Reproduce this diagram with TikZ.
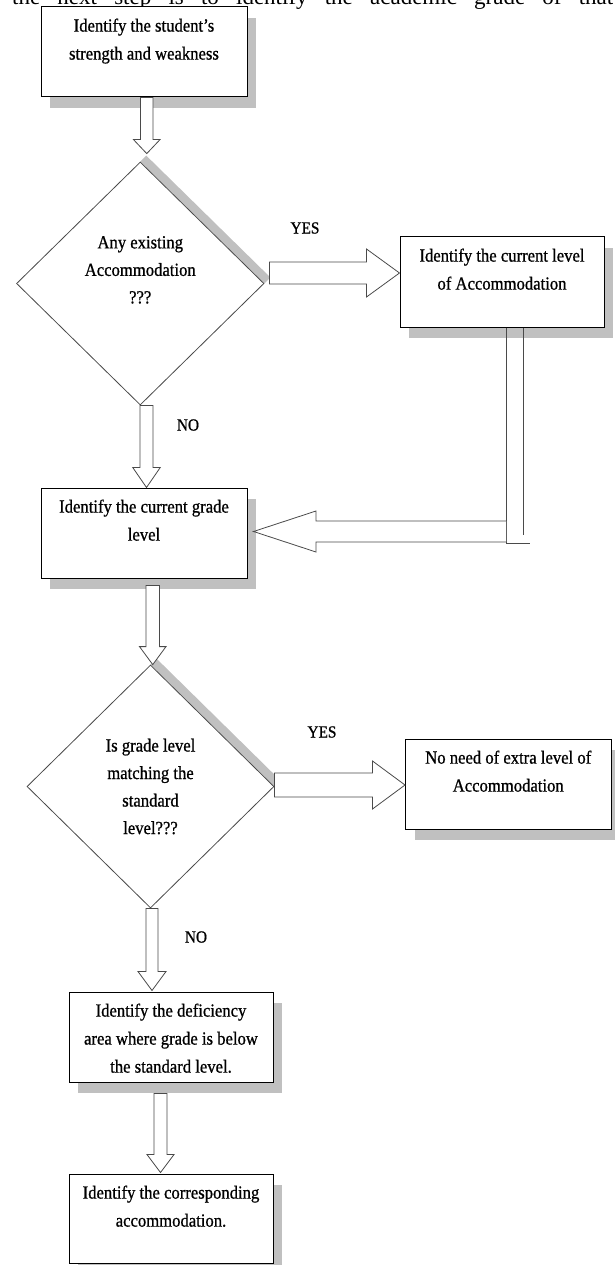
\documentclass[tikz,border=0pt]{standalone}
\usepackage{fontspec}
\setmainfont{Liberation Serif}
\newfontfamily\diagfont[FakeBold=0.8,FakeStretch=0.9]{Liberation Serif}
\usetikzlibrary{calc,shapes.geometric,shadows,backgrounds}
\definecolor{shadowgray}{HTML}{C0C0C0}
\definecolor{arrowline}{HTML}{4A4A4A}
\tikzset{
  every node/.style={font=\diagfont\fontsize{18.5}{28}\selectfont},
  box/.style={draw=black, line width=1pt, fill=white, inner sep=0pt,
    general shadow={fill=shadowgray, shadow xshift=9pt, shadow yshift=-11pt}},
  dec/.style={diamond, draw=arrowline, line width=0.8pt, fill=white, inner sep=0pt,
    align=center, font=\diagfont\fontsize{18.5}{27.5}\selectfont},
  band/.style={fill=shadowgray},
  blockarrow/.style={draw=arrowline, line width=0.8pt, fill=white, line join=miter},
  connline/.style={draw=arrowline, line width=0.9pt},
  lbl/.style={font=\diagfont\fontsize{17}{18}\selectfont, inner sep=0pt},
  toptext/.style={font=\rmfamily\fontsize{23}{26}\selectfont, inner sep=0pt, anchor=base west},
}
\newcommand\boxtext[3]{\parbox[c][#2pt][t]{#1pt}{\centering\vspace*{5pt}\strut #3}}
% vertical block arrow: start, tip, shaft half width, head half width, head length
\newcommand\downblock[5]{\draw[blockarrow] ($(#1)+(-#3,0)$) -- ($(#2)+(-#3,-#5)$) -- ($(#2)+(-#4,-#5)$) -- (#2) -- ($(#2)+(#4,-#5)$) -- ($(#2)+(#3,-#5)$) -- ($(#1)+(#3,0)$) -- cycle;}
% horizontal block arrow to the right
\newcommand\rightblock[5]{\draw[blockarrow] ($(#1)+(0,-#3)$) -- ($(#2)+(-#5,-#3)$) -- ($(#2)+(-#5,-#4)$) -- (#2) -- ($(#2)+(-#5,#4)$) -- ($(#2)+(-#5,#3)$) -- ($(#1)+(0,#3)$) -- cycle;}
\begin{document}
\begin{tikzpicture}[x=1pt,y=-1pt]
\useasboundingbox (0,0) rectangle (615,1265);

% cut-off line of body text at the top
\node[toptext] (top) at (12,5) {\hbox to 601pt{the\hfill next\hfill step\hfill is\hfill to\hfill identify\hfill the\hfill academic\hfill grade\hfill of\hfill that}};

% boxes
\node[box] (B1) at (144,52) {\boxtext{206}{90}{Identify the student’s\\strength and weakness}};
\node[box] (B2) at (502,282) {\boxtext{204}{90}{Identify the current level\\of Accommodation}};
\node[box] (B3) at (144,533) {\boxtext{206}{90}{Identify the current grade\\level}};
\node[box] (B4) at (508.25,784) {\boxtext{205.5}{90}{No need of extra level of\\Accommodation}};
\node[box] (B5) at (171,1037) {\boxtext{204}{90}{Identify the deficiency\\area where grade is below\\the standard level.}};
\node[box] (B6) at (171,1218.5) {\boxtext{204}{89}{Identify the corresponding\\accommodation.}};

% decisions
\node[dec, minimum width=247.5pt, minimum height=243pt] (D1) at (140.25,283.5) {Any existing\\Accommodation\\???\\\mbox{}};
\node[dec, minimum width=247pt, minimum height=243pt] (D2) at (150.5,786.5) {Is grade level\\matching the\\standard\\level???};
\begin{scope}[on background layer]
  \fill[white] (0,0) rectangle (615,1265);
  \fill[band] (D1.north) -- (D1.east) -- ($(D1.east)+(6,-6)$) -- ($(D1.north)+(6,-6)$) -- cycle;
  \fill[band] (D2.north) -- (D2.east) -- ($(D2.east)+(6,-6)$) -- ($(D2.north)+(6,-6)$) -- cycle;
\end{scope}

% labels
\node[lbl] (yes1) at (305,228) {YES};
\node[lbl] (no1) at (188,425) {NO};
\node[lbl] (yes2) at (322,732) {YES};
\node[lbl] (no2) at (196,937) {NO};

% connector end points
\coordinate (A1s) at ($(B1.south)+(2.75,0)$);
\coordinate (A1t) at ($(A1s |- D1.north)+(0,-8)$);
\coordinate (A2s) at ($(D1.south)+(6.25,0)$);
\coordinate (A2t) at (A2s |- B3.north);
\coordinate (A3s) at ($(B3.south)+(8.75,7)$);
\coordinate (A3t) at (A3s |- D2.north);
\coordinate (A4s) at ($(D2.south)+(1.5,0)$);
\coordinate (A4t) at ($(A4s |- B5.north)+(0,-1)$);
\coordinate (A5s) at ($(B5.south)+(-10.5,11)$);
\coordinate (A5t) at ($(A5s |- B6.north)+(0,-1)$);
\coordinate (R1s) at ($(D1.east)+(5,-10.5)$);
\coordinate (R1t) at (R1s -| B2.west);
\coordinate (R2s) at ($(D2.east)+(0,-1.5)$);
\coordinate (R2t) at (R2s -| B4.west);

% block arrows
\downblock{A1s}{A1t}{6.25}{13.25}{14}
\downblock{A2s}{A2t}{6.5}{13.75}{20}
\downblock{A3s}{A3t}{6.75}{13.25}{18}
\downblock{A4s}{A4t}{6}{14}{19}
\downblock{A5s}{A5t}{6.5}{13.5}{18}
\rightblock{R1s}{R1t}{11}{24}{33}
\rightblock{R2s}{R2t}{12}{24}{32.5}

% return connector from B2 down and back to B3
\coordinate (Vl) at ($(B2.south)+(4,0)$);
\coordinate (Vr) at ($(B2.south)+(21,0)$);
\coordinate (Lt) at ($(B3.east)+(6,-1.5)$);
\draw[connline] (Vl) -- (Vl |- 0,543) -- ++(24,0);
\draw[connline] (Vr) -- (Vr |- 0,535);
\draw[blockarrow] (Vl |- 0,521) -- (316,521) -- (316,511) -- (Lt) -- (316,552) -- (316,542) -- (Vl |- 0,542);
\end{tikzpicture}
\end{document}
